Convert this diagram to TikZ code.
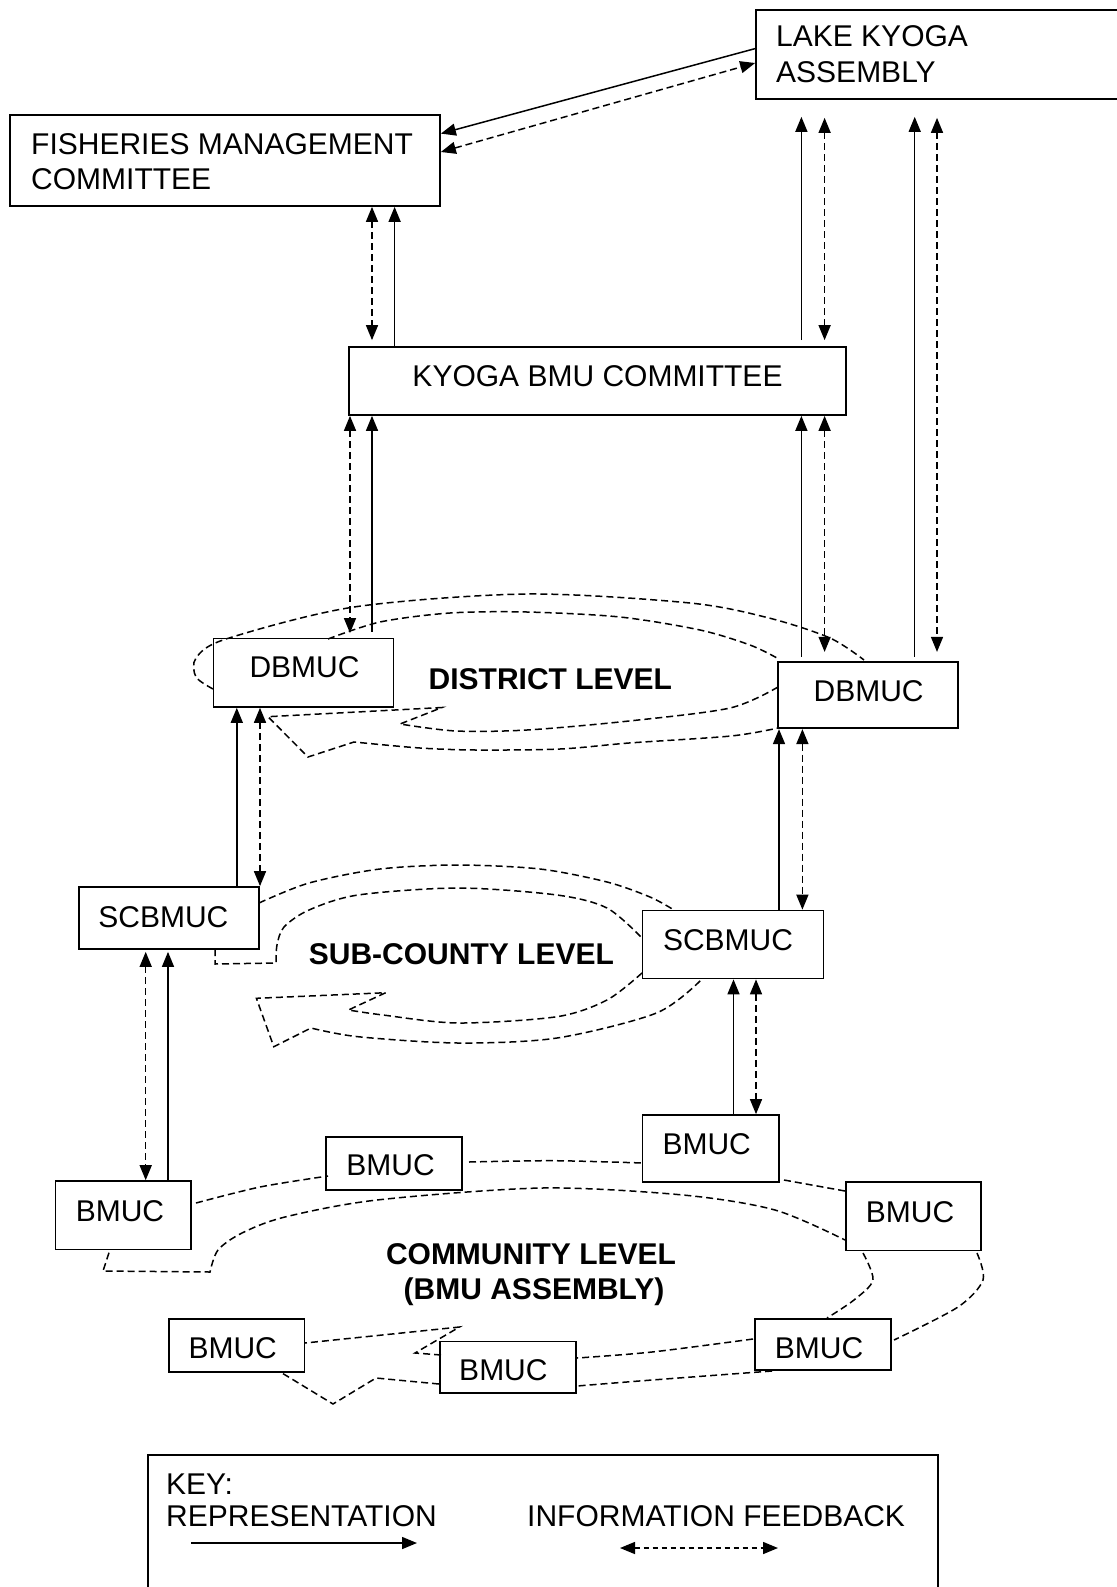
\documentclass[tikz,border=0pt]{standalone}
\usepackage{fontspec}
\setmainfont{Liberation Sans}
\usetikzlibrary{arrows.meta}
\begin{document}
\begin{tikzpicture}[x=1pt,y=-1pt,
  box/.style={draw, line width=1.7pt, rectangle, inner sep=0pt},
  rep/.style={line width=1.5pt, -{Triangle[length=15pt,width=12pt]}},
  fb/.style={line width=1.5pt, dash pattern=on 7pt off 4pt, {Triangle[length=15pt,width=12pt]}-{Triangle[length=15pt,width=12pt]}},
  cyc/.style={line width=1.5pt, dash pattern=on 7pt off 4pt},
  txt/.style={inner sep=0pt, font=\fontsize{30}{34}\selectfont},
  btxt/.style={inner sep=0pt, font=\fontsize{30}{34}\selectfont\bfseries}]
\useasboundingbox (0,0) rectangle (1116,1587);

% boxes
\node[box, minimum width=364pt, minimum height=89pt] (lk) at (938,54.5) {};
\node[box, minimum width=430pt, minimum height=91pt] (fmc) at (225,160.5) {};
\node[box, minimum width=497pt, minimum height=68pt] (kbmu) at (597.5,381) {};
\node[box, minimum width=180pt, minimum height=68.5pt] (dl) at (303.5,672.7) {};
\node[box, minimum width=180pt, minimum height=66.5pt] (dr) at (868,695) {};
\node[box, minimum width=180pt, minimum height=62pt] (sl) at (169,918) {};
\node[box, minimum width=181pt, minimum height=68pt] (sr) at (733,944.5) {};
\node[box, minimum width=136.5pt, minimum height=67pt] (b1) at (710.8,1148.5) {};
\node[box, minimum width=136pt, minimum height=53pt] (b2) at (394,1163.5) {};
\node[box, minimum width=135.4pt, minimum height=68.5pt] (b3) at (123.3,1215.3) {};
\node[box, minimum width=135pt, minimum height=68.6pt] (b4) at (913.5,1216.3) {};
\node[box, minimum width=135.5pt, minimum height=53pt] (b5) at (236.8,1345.5) {};
\node[box, minimum width=135.7pt, minimum height=51.4pt] (b6) at (507.8,1367.3) {};
\node[box, minimum width=136pt, minimum height=51pt] (b7) at (823,1344.5) {};
\node[box, minimum width=790pt, minimum height=150pt, anchor=north west] (key) at (147,1454) {};

% texts
\node[txt, anchor=base west] (lkt1) at (776,47) {LAKE KYOGA};
\node[txt, anchor=base west] (lkt2) at (776,82) {ASSEMBLY};
\node[txt, anchor=base west] (fmct1) at (31,154.5) {FISHERIES MANAGEMENT};
\node[txt, anchor=base west] (fmct2) at (31,189) {COMMITTEE};
\node[txt, anchor=base] (kbmut) at (597.5,386) {KYOGA BMU COMMITTEE};
\node[txt, anchor=base] (dlt) at (304.5,677.5) {DBMUC};
\node[btxt, anchor=base] (dist) at (550.4,689.5) {DISTRICT LEVEL};
\node[txt, anchor=base] (drt) at (868.6,701) {DBMUC};
\node[txt, anchor=base] (slt) at (163.4,927) {SCBMUC};
\node[btxt, anchor=base] (subc) at (461.4,964) {SUB-COUNTY LEVEL};
\node[txt, anchor=base] (srt) at (728,950) {SCBMUC};
\node[txt, anchor=base] (b1t) at (706.7,1154) {BMUC};
\node[txt, anchor=base] (b2t) at (390.6,1175) {BMUC};
\node[txt, anchor=base] (b3t) at (120,1221) {BMUC};
\node[txt, anchor=base] (b4t) at (910,1222) {BMUC};
\node[btxt, anchor=base] (comm1) at (531,1264) {COMMUNITY LEVEL};
\node[btxt, anchor=base] (comm2) at (534,1299) {(BMU ASSEMBLY)};
\node[txt, anchor=base] (b5t) at (232.7,1358) {BMUC};
\node[txt, anchor=base] (b6t) at (503.4,1380) {BMUC};
\node[txt, anchor=base] (b7t) at (819,1358) {BMUC};
\node[txt, anchor=base west] (keyt) at (166,1494) {KEY:};
\node[txt, anchor=base west] (rept) at (166,1526.5) {REPRESENTATION};
\node[txt, anchor=base west] (inft) at (527,1526.5) {INFORMATION FEEDBACK};

% helper coordinates
\coordinate (ya) at (0,48.6);
\coordinate (yb) at (0,133.6);
\coordinate (yc) at (0,152);
\coordinate (yd) at (0,63);
\coordinate (x1) at (372,0);
\coordinate (x2) at (394.6,0);
\coordinate (x3) at (801.4,0);
\coordinate (x4) at (824.6,0);
\coordinate (x5) at (914.7,0);
\coordinate (x6) at (937,0);
\coordinate (x7) at (350,0);
\coordinate (x8) at (236.8,0);
\coordinate (x9) at (260,0);
\coordinate (x10) at (779,0);
\coordinate (x11) at (802.4,0);
\coordinate (x12) at (145.7,0);
\coordinate (x13) at (168,0);
\coordinate (x14) at (733.5,0);
\coordinate (x15) at (756,0);

% connectors
\draw[rep] (lk.west |- ya) -- (fmc.east |- yb);
\draw[fb] (fmc.east |- yc) -- (lk.west |- yd);
\draw[fb, shorten >=6pt] (fmc.south -| x1) -- (kbmu.north -| x1);
\draw[rep] (kbmu.north -| x2) -- (fmc.south -| x2);
\draw[rep, shorten <=6pt, shorten >=17pt] (kbmu.north -| x3) -- (lk.south -| x3);
\draw[fb, shorten <=18pt, shorten >=6pt] (lk.south -| x4) -- (kbmu.north -| x4);
\draw[rep, shorten <=4pt, shorten >=17pt] (dr.north -| x5) -- (lk.south -| x5);
\draw[fb, shorten <=18pt, shorten >=9pt] (lk.south -| x6) -- (dr.north -| x6);
\draw[fb, shorten >=4.5pt] (kbmu.south -| x7) -- (dl.north -| x7);
\draw[rep, shorten <=6pt] (dl.north -| x1) -- (kbmu.south -| x1);
\draw[rep, shorten <=4pt] (dr.north -| x3) -- (kbmu.south -| x3);
\draw[fb, shorten >=9pt] (kbmu.south -| x4) -- (dr.north -| x4);
\draw[rep] (sl.north -| x8) -- (dl.south -| x8);
\draw[fb] (dl.south -| x9) -- (sl.north -| x9);
\draw[rep] (sr.north -| x10) -- (dr.south -| x10);
\draw[fb] (dr.south -| x11) -- (sr.north -| x11);
\draw[fb, shorten <=2pt] (sl.south -| x12) -- (b3.north -| x12);
\draw[rep, shorten >=2pt] (b3.north -| x13) -- (sl.south -| x13);
\draw[rep] (b1.north -| x14) -- (sr.south -| x14);
\draw[fb] (sr.south -| x15) -- (b1.north -| x15);

% district cycle
\draw[cyc] plot[smooth] coordinates {(213,689) (196,677) (196,658) (226,639) (354,607) (527,594) (690,603) (769,618) (830,638) (864,660)};
\draw[cyc] plot[smooth] coordinates {(328,639) (380,622) (450,613) (527,612) (620,617) (700,630) (750,645) (777,658)};
\draw[cyc] plot[smooth] coordinates {(778,687) (730,708) (629,721) (527,730) (456,731) (400,724)}
  -- (442,707.5) -- (268,716.7) -- (308,757) -- (354,742)
  -- plot[smooth] coordinates {(354,742) (420,748) (476,750) (560,749) (629,743) (731,736) (778,728)};

% sub-county cycle
\draw[cyc] plot[smooth] coordinates {(259,903) (309,883) (380,869) (458,865) (540,869) (607,882) (650,897) (674,910)};
\draw[cyc] (215,949) -- (215,964) -- (276,963)
  -- plot[smooth] coordinates {(276,963) (277,945) (284,927) (309,910) (358,895) (458,888) (557,895) (607,908) (642,938)};
\draw[cyc] plot[smooth] coordinates {(642,973) (607,1000) (557,1016.7) (458,1023) (383,1015) (348.4,1010)}
  -- (385.7,992.7) -- (256.4,998.3) -- (273.8,1046.7) -- (311,1028)
  -- plot[smooth] coordinates {(311,1028) (358,1036.7) (458,1043) (557,1038) (656.5,1013) (701,980)};

% community cycle
\draw[cyc] plot[smooth] coordinates {(196,1203) (260,1187) (328,1176)};
\draw[cyc] plot[smooth] coordinates {(469,1162) (554,1160.7) (643,1163)};
\draw[cyc] (784,1180) -- (845,1191);
\draw[cyc] plot[smooth] coordinates {(977,1253) (983,1280) (958,1307) (894,1340)};
\draw[cyc] plot[smooth] coordinates {(772,1371) (652,1380) (577,1386)};
\draw[cyc] (439,1384) -- (376,1378) -- (333,1404) -- (282,1373);
\draw[cyc] (109,1252.7) -- (103,1271) -- (210,1272)
  -- plot[smooth] coordinates {(210,1272) (218,1250) (242,1233) (285,1217) (377,1200) (542,1188) (683,1195) (775,1210) (845,1240)};
\draw[cyc] plot[smooth] coordinates {(863,1253) (873,1280) (854,1300) (827,1318)};
\draw[cyc] plot[smooth] coordinates {(753,1339) (652,1352) (577,1358)};
\draw[cyc] (441,1355) -- (415,1353) -- (459.5,1327) -- (305,1343);

% key arrows
\coordinate (ka) at (191,1543);
\coordinate (kb) at (417,1543);
\coordinate (kc) at (620,1548);
\coordinate (kd) at (778,1548);
\draw[rep] (ka) -- (kb);
\draw[fb, dash pattern=on 5pt off 4pt] (kc) -- (kd);
\end{tikzpicture}
\end{document}
